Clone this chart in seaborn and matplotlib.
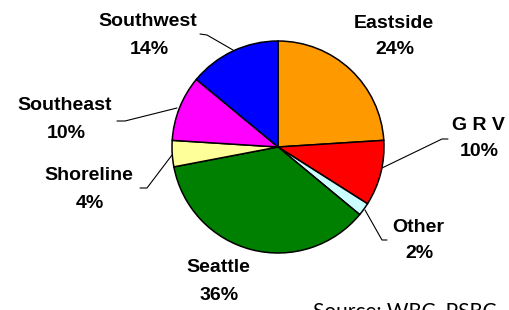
import matplotlib
matplotlib.use("Agg")
import matplotlib.pyplot as plt
import seaborn as sns

regions = ["Eastside", "G R V", "Other", "Seattle", "Shoreline", "Southeast", "Southwest"]
shares = [24, 10, 2, 36, 4, 10, 14]
pct_labels = ["24%", "10%", "2%", "36%", "4%", "10%", "14%"]
colors = ["#FF9900", "#FF0000", "#CCFFFF", "#008000", "#FFFF99", "#FF00FF", "#0000FF"]
source_text = "Source: WRC, PSRC"

sns.set_theme(style="white")
plt.rcParams['font.family'] = ['Liberation Sans', 'DejaVu Sans']

W, H = 509, 310
fig = plt.figure(figsize=(W / 100, H / 100), dpi=100)
ax = fig.add_axes([0, 0, 1, 1])

cx, cy, r = 278, H - 147, 106
ax.pie(shares, colors=sns.color_palette(colors), startangle=90, counterclock=False,
       center=(cx, cy), radius=r, frame=True,
       wedgeprops=dict(edgecolor='black', linewidth=1.1))
ax.set_xlim(0, W)
ax.set_ylim(0, H)
ax.set_aspect('equal')
ax.axis('off')

# label positions (pixel coords, center of first line) and leader lines
label_pos = {
    "Eastside": (394, 23),
    "G R V": (478, 125),
    "Other": (418, 227),
    "Seattle": (218, 268),
    "Shoreline": (89, 176),
    "Southeast": (65, 106),
    "Southwest": (148, 22),
}
leaders = {
    "G R V": [(448, 139), (442, 139), (382, 168)],
    "Other": [(387, 240), (382, 240), (365, 210)],
    "Shoreline": [(140, 188), (147, 188), (172, 155)],
    "Southeast": [(117, 121), (125, 121), (177, 108)],
    "Southwest": [(200, 34), (207, 35), (233, 50)],
}
for name, pct in zip(regions, pct_labels):
    x, y = label_pos[name]
    ax.text(x, H - y, name, ha='center', va='center', fontsize=14,
            fontweight='bold', color='black')
    ax.text(x + 1, H - y - 27, pct, ha='center', va='center', fontsize=14,
            fontweight='bold', color='black')
    if name in leaders:
        pts = leaders[name]
        ax.plot([p[0] for p in pts], [H - p[1] for p in pts], color='black', lw=0.8)

ax.text(313, H - 301, source_text, ha='left', va='top', fontsize=15,
        family=['Lato', 'DejaVu Sans'], color='black')

fig.savefig("out.png", dpi=100)
